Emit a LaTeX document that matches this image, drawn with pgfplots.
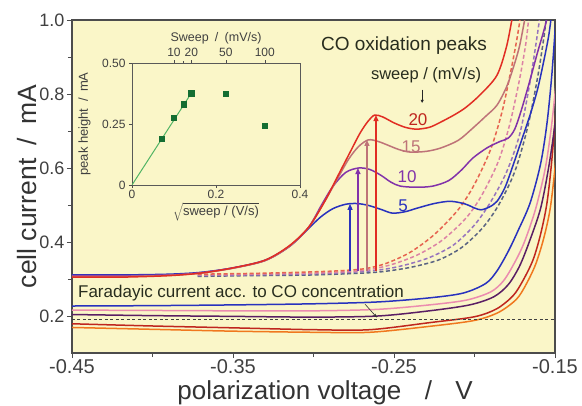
\documentclass[border=0pt]{standalone}
\usepackage{pgfplots}
\pgfplotsset{compat=1.18}
\usepackage{fontspec}
\setmainfont{Liberation Sans}
\usetikzlibrary{arrows.meta}

\definecolor{bgyellow}{RGB}{250,246,200}
\definecolor{cRed}{RGB}{225,45,35}
\definecolor{cRose}{RGB}{190,115,120}
\definecolor{cViolet}{RGB}{130,50,170}
\definecolor{cBlue}{RGB}{40,50,190}
\definecolor{cPink}{RGB}{235,140,175}
\definecolor{cPlum}{RGB}{90,30,100}
\definecolor{cOrange}{RGB}{240,120,30}
\definecolor{dRed}{RGB}{230,100,80}
\definecolor{dPink}{RGB}{220,130,165}
\definecolor{dViolet}{RGB}{150,115,190}
\definecolor{dSlate}{RGB}{90,100,130}
\definecolor{txt}{RGB}{40,45,30}
\definecolor{ptgreen}{RGB}{20,110,50}
\definecolor{fitgreen}{RGB}{80,180,100}

\begin{document}
\begin{tikzpicture}
\useasboundingbox (-72pt,-52pt) rectangle (510pt,353pt);
% ---------------- main voltammogram ----------------
\begin{axis}[
  name=main, scale only axis, width=483pt, height=333pt,
  xmin=-0.45, xmax=-0.15, ymin=0.1, ymax=1.0,
  xtick={-0.45,-0.35,-0.25,-0.15}, xticklabels={-0.45,-0.35,-0.25,-0.15},
  minor xtick={-0.4,-0.3,-0.2},
  ytick={0.2,0.4,0.6,0.8,1.0}, yticklabels={0.2,0.4,0.6,0.8,1.0},
  minor ytick={0.3,0.5,0.7,0.9},
  tick align=outside, tick pos=left,
  major tick length=5pt, minor tick length=4pt,
  tick style={black!70, line width=0.8pt},
  axis line style={black!70, line width=1.2pt},
  axis background/.style={fill=bgyellow},
  xticklabel style={font=\fontsize{20}{20}\selectfont, text=black!75, yshift=2pt},
  yticklabel style={font=\fontsize{18}{18}\selectfont, text=black!75, xshift=1pt},
  xlabel={polarization voltage\hspace{0.9em}/\hspace{0.9em}V},
  ylabel={cell current\hspace{0.5em}/\hspace{0.5em}mA},
  xlabel style={font=\fontsize{26}{26}\selectfont, text=black!80, at={(axis description cs:0.524,0)}, anchor=base, yshift=-46.5pt},
  ylabel style={font=\fontsize{26.5}{26.5}\selectfont, text=black!80, at={(axis description cs:-0.066,0.5)}, anchor=south},
  every axis plot/.append style={line width=1.5pt},
]
% reverse (cathodic) scans
\addplot[cOrange, smooth] coordinates {(-0.45,0.169) (-0.40,0.164) (-0.35,0.159) (-0.30,0.156) (-0.265,0.156) (-0.228,0.172) (-0.200,0.188) (-0.185,0.210) (-0.174,0.245) (-0.168,0.285) (-0.162,0.340) (-0.157,0.41) (-0.153,0.49) (-0.150,0.60) (-0.147,0.75)};
\addplot[cRed!85!black, smooth] coordinates {(-0.45,0.179) (-0.40,0.173) (-0.35,0.168) (-0.30,0.163) (-0.265,0.163) (-0.228,0.182) (-0.200,0.198) (-0.186,0.220) (-0.176,0.255) (-0.170,0.295) (-0.1637,0.351) (-0.159,0.42) (-0.155,0.505) (-0.152,0.62) (-0.149,0.78) (-0.147,0.9)};
\addplot[cPlum, smooth] coordinates {(-0.45,0.204) (-0.40,0.201) (-0.35,0.199) (-0.30,0.197) (-0.26,0.200) (-0.228,0.214) (-0.203,0.230) (-0.188,0.252) (-0.179,0.285) (-0.172,0.335) (-0.166,0.40) (-0.159,0.49) (-0.154,0.60) (-0.150,0.72) (-0.147,0.85)};
\addplot[cPink, smooth] coordinates {(-0.45,0.216) (-0.40,0.215) (-0.35,0.214) (-0.30,0.214) (-0.26,0.218) (-0.228,0.230) (-0.205,0.243) (-0.190,0.265) (-0.182,0.295) (-0.175,0.345) (-0.169,0.40) (-0.162,0.49) (-0.156,0.60) (-0.152,0.72) (-0.149,0.85) (-0.147,1.0)};
\addplot[cBlue, smooth] coordinates {(-0.45,0.227) (-0.40,0.228) (-0.35,0.230) (-0.30,0.233) (-0.26,0.238) (-0.228,0.249) (-0.207,0.262) (-0.193,0.288) (-0.186,0.322) (-0.179,0.375) (-0.173,0.43) (-0.1655,0.505) (-0.159,0.610) (-0.155,0.72) (-0.152,0.85) (-0.1495,1.0)};
% level expected from the CO concentration
\addplot[black!75, line width=0.9pt, dash pattern=on 3pt off 2.5pt] coordinates {(-0.45,0.19) (-0.15,0.19)};
% CO-free background scans
\addplot[dSlate, smooth, dash pattern=on 4pt off 2.5pt] coordinates {(-0.372,0.307) (-0.34,0.309) (-0.30,0.311) (-0.265,0.317) (-0.250,0.324) (-0.237,0.334) (-0.222,0.352) (-0.208,0.385) (-0.195,0.438) (-0.185,0.500) (-0.175,0.590) (-0.167,0.710) (-0.161,0.840) (-0.157,0.950) (-0.155,1.02)};
\addplot[dViolet, smooth, dash pattern=on 4pt off 2.5pt] coordinates {(-0.372,0.309) (-0.34,0.311) (-0.30,0.314) (-0.270,0.320) (-0.255,0.327) (-0.243,0.338) (-0.228,0.358) (-0.213,0.392) (-0.200,0.446) (-0.190,0.508) (-0.180,0.590) (-0.172,0.690) (-0.166,0.820) (-0.162,0.930) (-0.159,1.02)};
\addplot[dPink, smooth, dash pattern=on 4pt off 2.5pt] coordinates {(-0.372,0.311) (-0.34,0.313) (-0.30,0.316) (-0.275,0.321) (-0.262,0.328) (-0.250,0.341) (-0.235,0.366) (-0.220,0.405) (-0.205,0.466) (-0.195,0.530) (-0.185,0.620) (-0.178,0.720) (-0.172,0.840) (-0.168,0.940) (-0.166,1.02)};
\addplot[dRed, smooth, dash pattern=on 4pt off 2.5pt] coordinates {(-0.372,0.313) (-0.34,0.315) (-0.31,0.318) (-0.285,0.322) (-0.268,0.328) (-0.255,0.342) (-0.240,0.372) (-0.225,0.420) (-0.210,0.488) (-0.200,0.556) (-0.190,0.650) (-0.183,0.750) (-0.178,0.850) (-0.174,0.940) (-0.171,1.02)};
% forward scans with CO stripping peaks
\addplot[cBlue, smooth] coordinates {(-0.45,0.311) (-0.42,0.311) (-0.39,0.313) (-0.37,0.318) (-0.35,0.330) (-0.33,0.351) (-0.315,0.388) (-0.305,0.428) (-0.296,0.466) (-0.288,0.490) (-0.280,0.502) (-0.273,0.504) (-0.266,0.499) (-0.258,0.488) (-0.251,0.478) (-0.243,0.482) (-0.236,0.491) (-0.225,0.504) (-0.215,0.510) (-0.206,0.503) (-0.200,0.492) (-0.196,0.487) (-0.191,0.494) (-0.186,0.510) (-0.181,0.548) (-0.176,0.608) (-0.171,0.672) (-0.1655,0.743) (-0.161,0.810) (-0.1575,0.878) (-0.154,0.955) (-0.152,1.02)};
\addplot[cViolet, smooth] coordinates {(-0.45,0.309) (-0.42,0.309) (-0.39,0.311) (-0.37,0.317) (-0.35,0.330) (-0.33,0.350) (-0.315,0.388) (-0.303,0.440) (-0.295,0.500) (-0.288,0.550) (-0.280,0.588) (-0.272,0.600) (-0.265,0.596) (-0.258,0.580) (-0.252,0.562) (-0.246,0.551) (-0.236,0.548) (-0.226,0.551) (-0.216,0.566) (-0.208,0.595) (-0.201,0.627) (-0.192,0.655) (-0.184,0.672) (-0.179,0.681) (-0.175,0.705) (-0.171,0.755) (-0.166,0.830) (-0.161,0.910) (-0.157,0.970) (-0.154,1.02)};
\addplot[cRose, smooth] coordinates {(-0.45,0.307) (-0.42,0.307) (-0.39,0.310) (-0.37,0.316) (-0.35,0.329) (-0.33,0.350) (-0.315,0.388) (-0.303,0.440) (-0.293,0.510) (-0.285,0.572) (-0.278,0.625) (-0.272,0.658) (-0.266,0.676) (-0.260,0.672) (-0.254,0.662) (-0.247,0.650) (-0.240,0.643) (-0.230,0.645) (-0.221,0.654) (-0.210,0.675) (-0.201,0.708) (-0.193,0.740) (-0.186,0.770) (-0.180,0.820) (-0.176,0.870) (-0.172,0.930) (-0.168,1.02)};
\addplot[cRed, smooth] coordinates {(-0.45,0.305) (-0.42,0.305) (-0.39,0.309) (-0.37,0.316) (-0.35,0.330) (-0.33,0.351) (-0.315,0.390) (-0.303,0.440) (-0.293,0.510) (-0.284,0.586) (-0.277,0.645) (-0.271,0.695) (-0.266,0.727) (-0.262,0.743) (-0.257,0.738) (-0.250,0.722) (-0.243,0.710) (-0.236,0.705) (-0.228,0.710) (-0.221,0.724) (-0.212,0.745) (-0.205,0.765) (-0.196,0.800) (-0.186,0.851) (-0.180,0.930) (-0.176,1.02)};
% peak heights above the background
\addplot[cBlue, line width=1.2pt, -{Triangle[length=6pt,width=5pt]}] coordinates {(-0.2773,0.322) (-0.2773,0.503)};
\addplot[cViolet, line width=1.2pt, -{Triangle[length=6pt,width=5pt]}] coordinates {(-0.2724,0.322) (-0.2724,0.600)};
\addplot[cRose, line width=1.2pt, -{Triangle[length=6pt,width=5pt]}] coordinates {(-0.2668,0.322) (-0.2668,0.676)};
\addplot[cRed, line width=1.2pt, -{Triangle[length=6pt,width=5pt]}] coordinates {(-0.2612,0.322) (-0.2612,0.743)};
% annotations
\node[text=txt, font=\fontsize{19}{19}\selectfont] at (axis cs:-0.2438,0.932) {CO oxidation peaks};
\node[text=txt, font=\fontsize{16.5}{16.5}\selectfont] at (axis cs:-0.2301,0.852) {sweep / (mV/s)};
\draw[black!85, line width=0.6pt, -{Triangle[length=3pt,width=3pt]}] (axis cs:-0.2325,0.812) -- (axis cs:-0.2325,0.776);
\node[text=cRed!85!black, font=\fontsize{17}{17}\selectfont] at (axis cs:-0.2351,0.730) {20};
\node[text=cRose, font=\fontsize{17}{17}\selectfont] at (axis cs:-0.2394,0.658) {15};
\node[text=cViolet, font=\fontsize{17}{17}\selectfont] at (axis cs:-0.2419,0.577) {10};
\node[text=cBlue, font=\fontsize{17}{17}\selectfont] at (axis cs:-0.2444,0.497) {5};
\node[anchor=west, text=txt, font=\fontsize{17}{17}\selectfont, inner sep=0pt] at (axis cs:-0.4463,0.262) {Faradayic current acc. to CO concentration};
\draw[black!80, line width=0.6pt, -{Stealth[length=4pt,width=3pt]}] (axis cs:-0.268,0.232) -- (axis cs:-0.2606,0.196);
\end{axis}

% ---------------- inset: peak height vs. sqrt(sweep) ----------------
\begin{axis}[
  at={(60pt,168pt)}, anchor=south west, scale only axis, width=168pt, height=122pt,
  xmin=0, xmax=0.4, ymin=0, ymax=0.5,
  xtick={0,0.2,0.4}, xticklabels={0,0.2,0.4},
  ytick={0,0.25,0.5}, yticklabels={0,0.25,0.50},
  tick align=outside, tick pos=left, major tick length=3pt,
  tick style={black!70, line width=0.6pt},
  axis line style={black!65, line width=0.8pt},
  axis background/.style={fill=bgyellow},
  ticklabel style={font=\fontsize{12}{12}\selectfont, text=black!75},
  xticklabel style={yshift=1pt},
  xlabel={$\sqrt{\mbox{\fontsize{13}{13}\selectfont sweep / (V/s)}}$},
  ylabel={peak height\hspace{0.5em}/\hspace{0.5em}mA},
  xlabel style={text=black!75, at={(axis description cs:0.5,0)}, anchor=north, yshift=-14pt},
  ylabel style={font=\fontsize{13}{13}\selectfont, text=black!75, at={(axis description cs:-0.225,0.5)}, anchor=south},
]
\addplot[fitgreen, line width=1pt] coordinates {(0,0) (0.1414,0.377)};
\addplot[only marks, mark=square*, mark size=2.7pt, mark options={fill=ptgreen, draw=ptgreen}] coordinates {(0.0707,0.190) (0.1,0.277) (0.1225,0.331) (0.1414,0.377) (0.2236,0.375) (0.3162,0.243)};
\end{axis}

% upper scale of the inset in mV/s
\begin{axis}[
  at={(60pt,168pt)}, anchor=south west, scale only axis, width=168pt, height=122pt,
  xmin=0, xmax=0.4, ymin=0, ymax=0.5,
  axis x line*=top, hide y axis, axis line style={draw=none},
  xtick={0.1,0.1414,0.2236,0.3162}, xticklabels={10,20,50,100},
  minor xtick={0.1225},
  tick align=outside, major tick length=3pt, minor tick length=2pt,
  tick style={black!70, line width=0.6pt},
  ticklabel style={font=\fontsize{12}{12}\selectfont, text=black!75},
  xlabel={Sweep\hspace{0.5em}/\hspace{0.5em}(mV/s)},
  xlabel style={font=\fontsize{12.5}{12.5}\selectfont, text=black!75, yshift=-3pt},
]
\addplot[draw=none] coordinates {(0.2,0.2)};
\end{axis}
\end{tikzpicture}
\end{document}
